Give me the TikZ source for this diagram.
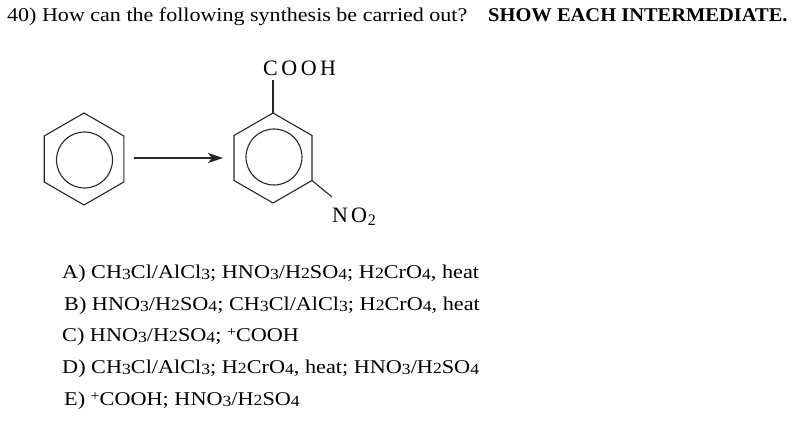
\documentclass[tikz,border=0pt]{standalone}
\usepackage{fontspec}
\setmainfont{Liberation Serif}
\usetikzlibrary{arrows.meta}
\newcommand{\od}[1]{\raisebox{-0.22ex}{\fontsize{15.5}{16}\selectfont #1}}
\newcommand{\ot}[1]{{\fontsize{15.5}{16}\selectfont #1}}
\newcommand{\pl}{\raisebox{0.55ex}{\fontsize{14}{15}\selectfont +}}
\newcommand{\sx}[1]{\scalebox{1.14}[1]{#1}}
\tikzset{
  bond/.style={line width=1.1pt, black!85},
  txt/.style={inner sep=0pt, anchor=base west, font=\fontsize{19.5}{22}\selectfont},
  lab/.style={inner sep=0pt, anchor=base west, font=\fontsize{22}{24}\selectfont},
}
\begin{document}
\begin{tikzpicture}[x=1pt,y=-1pt]
\useasboundingbox (0,0) rectangle (804,428);
% title
\node[txt] (q) at (7,22) {\scalebox{1.13}[1]{40) How can the following synthesis be carried out?}};
\node[txt,font=\fontsize{19.5}{22}\bfseries\selectfont] (qb) at (488,22) {\scalebox{1.05}[1]{SHOW EACH INTERMEDIATE.}};
% left benzene
\coordinate (Lc) at (84,159);
\draw[bond] (84,113) -- (123.8,136) -- (123.8,182) -- (84,205) -- (44.2,182) -- (44.2,136) -- cycle;
\draw[bond] (84.5,160) circle (28);
% right ring
\coordinate (R1) at (273,113);
\coordinate (R2) at (312,135.5);
\coordinate (R3) at (312,180.5);
\coordinate (R4) at (273,203);
\coordinate (R5) at (234,180.5);
\coordinate (R6) at (234,135.5);
\draw[bond] (R1) -- (R2) -- (R3) -- (R4) -- (R5) -- (R6) -- cycle;
\draw[bond] (274,157) circle (28);
% arrow
\coordinate (a1) at (134,158);
\coordinate (a2) at (223,158);
\draw[bond, -{Stealth[length=15pt,width=10pt,inset=4pt]}] (a1) -- (a2);
% substituents
\node[lab] (cooh) at (263,76) {C\kern3.5pt O\kern3.5pt O\kern3.5pt H};
\node[lab] (no2) at (332,222) {N\kern3pt O\kern1pt\textsubscript{\fontsize{16}{16}\selectfont 2}};
\coordinate (ct) at (273,80);
\coordinate (nt) at (332,197);
\draw[bond] (R1) -- (ct);
\draw[bond] (R3) -- (nt);
% answers
\node[txt] (A) at (62,278) {\sx{A) CH\od{3}Cl/AlCl\od{3}; HNO\od{3}/H\ot{2}SO\od{4}; H\ot{2}CrO\od{4}, heat}};
\node[txt] (B) at (64,310) {\sx{B) HNO\od{3}/H\ot{2}SO\od{4}; CH\od{3}Cl/AlCl\od{3}; H\ot{2}CrO\od{4}, heat}};
\node[txt] (C) at (62,341) {\sx{C) HNO\od{3}/H\ot{2}SO\od{4}; \pl COOH}};
\node[txt] (D) at (62,373) {\sx{D) CH\od{3}Cl/AlCl\od{3}; H\ot{2}CrO\od{4}, heat; HNO\od{3}/H\ot{2}SO\od{4}}};
\node[txt] (E) at (64,405) {\sx{E) \pl COOH; HNO\od{3}/H\ot{2}SO\od{4}}};
\end{tikzpicture}
\end{document}
